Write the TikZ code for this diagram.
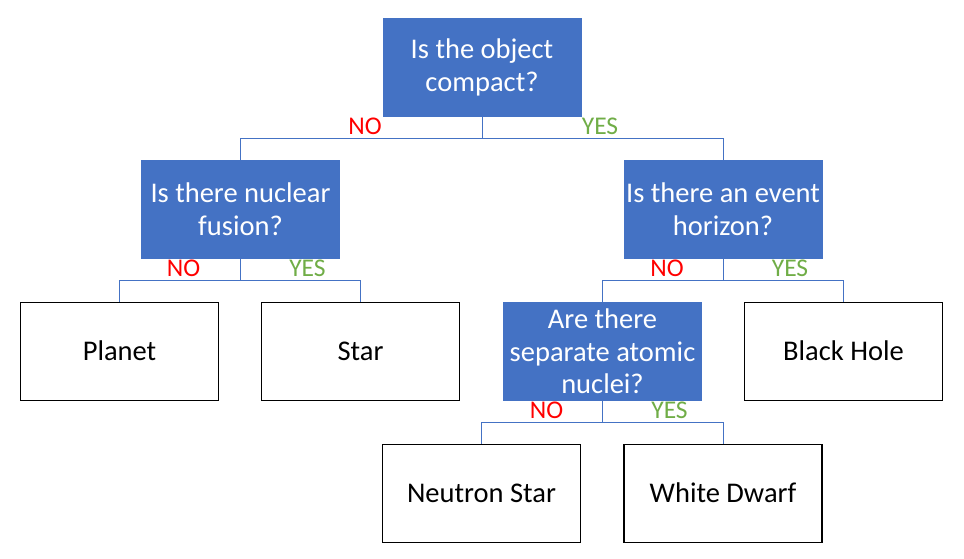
\documentclass[tikz,border=0pt]{standalone}
\usepackage{fontspec}
\setmainfont{Carlito}
\usetikzlibrary{positioning}
\definecolor{boxblue}{RGB}{68,114,196}
\definecolor{nored}{RGB}{255,0,0}
\definecolor{yesgreen}{RGB}{112,173,71}

\begin{document}
\begin{tikzpicture}[
    question/.style={fill=boxblue, text=white, minimum width=199pt, minimum height=99pt,
      align=center, inner sep=2pt, font=\fontsize{28.5}{32.5}\selectfont},
    answer/.style={draw=black, line width=1.2pt, fill=white, minimum width=198pt,
      minimum height=98pt, align=center, font=\fontsize{28.5}{32.5}\selectfont},
    link/.style={draw=boxblue, line width=1pt},
    nolbl/.style={text=nored, anchor=base, inner sep=0pt, font=\fontsize{25.5}{28}\selectfont},
    yeslbl/.style={text=yesgreen, anchor=base, inner sep=0pt, font=\fontsize{25.5}{28}\selectfont}
  ]
  \useasboundingbox (0,0) rectangle (964pt,-559pt);

  \node[question] (compact) at (482pt,-67.5pt) {Is the object\\compact?};
  \node[question, below=42.5pt of compact, xshift=-241.5pt] (fusion) {Is there nuclear\\fusion?};
  \node[question, below=42.5pt of compact, xshift=241pt] (horizon) {Is there an event\\horizon?};

  \node[answer, below=42.5pt of fusion, xshift=-121pt] (planet) {Planet};
  \node[answer, below=42.5pt of fusion, xshift=120pt] (star) {Star};
  \node[question, below=42.5pt of horizon, xshift=-120.5pt] (nuclei) {Are there\\separate atomic\\nuclei?};
  \node[answer, below=42.5pt of horizon, xshift=120.5pt] (blackhole) {Black Hole};

  \node[answer, below=42.5pt of nuclei, xshift=-121pt] (neutron) {Neutron Star};
  \node[answer, below=42.5pt of nuclei, xshift=120.5pt] (dwarf) {White Dwarf};

  % tree links
  \draw[link] (compact.south) |- ([yshift=21.5pt]fusion.north) -- (fusion.north);
  \draw[link] (compact.south) |- ([yshift=21.5pt]horizon.north) -- (horizon.north);
  \draw[link] (fusion.south) |- ([yshift=21.5pt]planet.north) -- (planet.north);
  \draw[link] (fusion.south) |- ([yshift=21.5pt]star.north) -- (star.north);
  \draw[link] (horizon.south) |- ([yshift=21.5pt]nuclei.north) -- (nuclei.north);
  \draw[link] (horizon.south) |- ([yshift=21.5pt]blackhole.north) -- (blackhole.north);
  \draw[link] (nuclei.south) |- ([yshift=21pt]neutron.north) -- (neutron.north);
  \draw[link] (nuclei.south) |- ([yshift=21pt]dwarf.north) -- (dwarf.north);

  % answers on the branches
  \node[nolbl] (no1) at ([shift={(-117pt,-17pt)}]compact.south) {NO};
  \node[yeslbl] (yes1) at ([shift={(118pt,-17pt)}]compact.south) {YES};
  \node[nolbl] (no2) at ([shift={(-57pt,-17.5pt)}]fusion.south) {NO};
  \node[yeslbl] (yes2) at ([shift={(67pt,-17.5pt)}]fusion.south) {YES};
  \node[nolbl] (no3) at ([shift={(-56pt,-17.5pt)}]horizon.south) {NO};
  \node[yeslbl] (yes3) at ([shift={(67pt,-17.5pt)}]horizon.south) {YES};
  \node[nolbl] (no4) at ([shift={(-56pt,-17.5pt)}]nuclei.south) {NO};
  \node[yeslbl] (yes4) at ([shift={(67pt,-17.5pt)}]nuclei.south) {YES};
\end{tikzpicture}
\end{document}
